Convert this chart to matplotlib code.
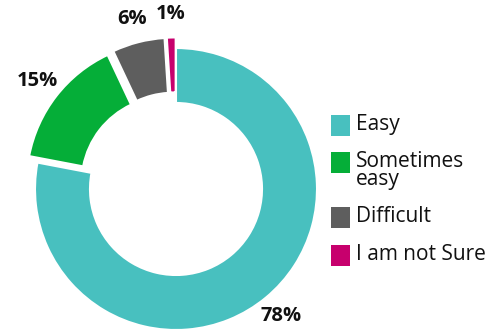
import matplotlib.pyplot as plt
from matplotlib.patches import Rectangle

# Survey answers (percent)
labels = ['Easy', 'Sometimes\neasy', 'Difficult', 'I am not Sure']
values = [78, 15, 6, 1]
colors = ['#48C0BF', '#05AE38', '#5E5E5E', '#C7006D']
explode = [0, 0.075, 0.075, 0.075]

W, H = 502, 332
CX, CY, R = 176, 143, 141  # pie centre / radius in pixels (y up)

plt.rcParams['font.family'] = ['Open Sans', 'DejaVu Sans']

fig = plt.figure(figsize=(W / 100, H / 100), dpi=100)
ax = fig.add_axes([0, 0, 1, 1])

wedges, texts, pcts = ax.pie(
    values, colors=colors, explode=explode, startangle=90, counterclock=False,
    radius=1, autopct=lambda p: f'{p:.0f}%', pctdistance=1.17,
    wedgeprops=dict(width=0.39, edgecolor='white', linewidth=1.5),
    textprops=dict(fontsize=14.5, fontweight='bold', color='#111111'),
)
ax.set_aspect('auto')
ax.set_xlim(-CX / R, (W - CX) / R)
ax.set_ylim(-CY / R, (H - CY) / R)
ax.axis('off')

# legend drawn by hand so the swatch lines up with the first text line
lg = fig.add_axes([0, 0, 1, 1])
lg.set_xlim(0, W)
lg.set_ylim(H, 0)
lg.axis('off')
row_y = [125, 162, 217, 255]
for y, lab, col in zip(row_y, labels, colors):
    lg.add_patch(Rectangle((331, y - 10.5), 19, 21, color=col, lw=0))
    lg.text(356, y - 11, lab, fontsize=15, va='top', ha='left',
            color='#111111', linespacing=0.8)

fig.savefig('out.png', dpi=100)
